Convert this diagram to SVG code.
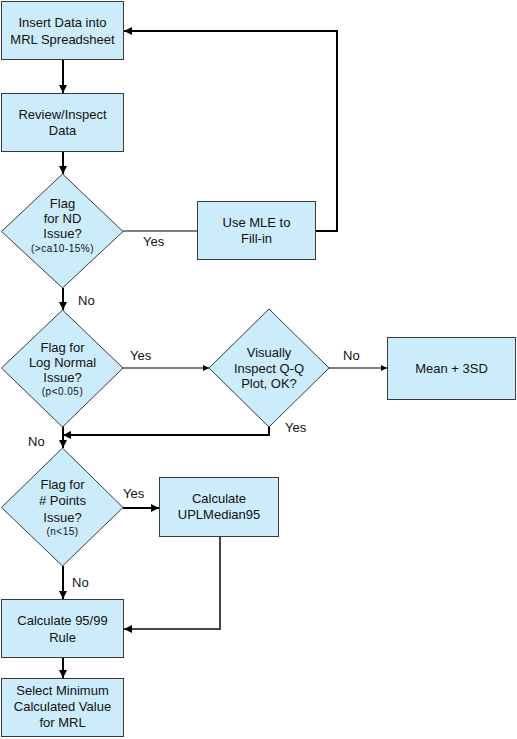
<svg xmlns="http://www.w3.org/2000/svg" width="517" height="739" viewBox="0 0 517 739">
<defs>
<marker id="ah" viewBox="0 0 8 8" refX="8" refY="4" markerWidth="4" markerHeight="4" markerUnits="strokeWidth" orient="auto"><path d="M0,0 L8,4 L0,8 z" fill="#000"/></marker>
<marker id="ahs" viewBox="0 0 8 8" refX="8" refY="4" markerWidth="5" markerHeight="5" markerUnits="strokeWidth" orient="auto"><path d="M0,0 L8,4 L0,8 z" fill="#000"/></marker>
<style>
.n{fill:#CCEBFB;stroke:#3a3a3a;stroke-width:1}
.t{font-family:"Liberation Sans",Arial,sans-serif;font-size:13px;fill:#111;text-anchor:middle}
.s{font-family:"Liberation Sans",Arial,sans-serif;font-size:10px;fill:#111;text-anchor:middle;letter-spacing:0.5px}
.l{font-family:"Liberation Sans",Arial,sans-serif;font-size:13px;fill:#111}
.c{fill:none;stroke:#000;stroke-width:2}
.ct{fill:none;stroke:#000;stroke-width:1.2}
</style>
</defs>
<rect width="517" height="739" fill="#fff"/>
<g id="connectors">
<path class="c" d="M63,60 V93" marker-end="url(#ah)"/>
<path class="c" d="M63,152 V174" marker-end="url(#ah)"/>
<path class="ct" d="M123,231 H197"/>
<path class="c" d="M316,231 H337 V31 H124" marker-end="url(#ah)"/>
<path class="c" d="M63,288 V310" marker-end="url(#ah)"/>
<path class="ct" d="M123,368 H209" marker-end="url(#ahs)"/>
<path class="ct" d="M329,368 H387" marker-end="url(#ahs)"/>
<path class="c" d="M269,427 V435 H63" marker-end="url(#ah)"/>
<path class="c" d="M63,426 V448" marker-end="url(#ah)"/>
<path class="c" d="M123,508 H159" marker-end="url(#ah)"/>
<path class="c" d="M220,537 V629 H124" style="stroke:#444" marker-end="url(#ah)"/>
<path class="c" d="M63,566 V599" marker-end="url(#ah)"/>
<path class="c" d="M63,658 V678" marker-end="url(#ah)"/>
<text class="l" x="143" y="246">Yes</text>
<text class="l" x="78" y="305">No</text>
<text class="l" x="130" y="360">Yes</text>
<text class="l" x="343" y="360">No</text>
<text class="l" x="285" y="432">Yes</text>
<text class="l" x="28" y="446">No</text>
<text class="l" x="123" y="498">Yes</text>
<text class="l" x="72" y="587">No</text>
</g>
<g id="insert">
<rect class="n" x="1.5" y="1.5" width="122" height="58"/>
<text class="t" x="62.5" y="27">Insert Data into</text>
<text class="t" x="62.5" y="44">MRL Spreadsheet</text>
</g>
<g id="review">
<rect class="n" x="1.5" y="93.5" width="122" height="58"/>
<text class="t" x="62.5" y="119">Review/Inspect</text>
<text class="t" x="62.5" y="135">Data</text>
</g>
<g id="flagND">
<polygon class="n" points="62.5,174 123,231.5 62.5,288 1.5,231.5"/>
<text class="t" x="62.5" y="208">Flag</text>
<text class="t" x="62.5" y="223">for ND</text>
<text class="t" x="62.5" y="238">Issue?</text>
<text class="s" x="62.5" y="252">(&gt;ca10-15%)</text>
</g>
<g id="mle">
<rect class="n" x="197.5" y="201.5" width="118" height="58"/>
<text class="t" x="256.5" y="227">Use MLE to</text>
<text class="t" x="256.5" y="243">Fill-in</text>
</g>
<g id="flagLog">
<polygon class="n" points="62.5,310 123,368 62.5,427 1.5,368"/>
<text class="t" x="62.5" y="352">Flag for</text>
<text class="t" x="62.5" y="367">Log Normal</text>
<text class="t" x="62.5" y="382">Issue?</text>
<text class="s" x="62.5" y="395">(p&lt;0.05)</text>
</g>
<g id="qq">
<polygon class="n" points="269,309 329,368 269,427 209,368"/>
<text class="t" x="269" y="357">Visually</text>
<text class="t" x="269" y="373">Inspect Q-Q</text>
<text class="t" x="269" y="388">Plot, OK?</text>
</g>
<g id="mean">
<rect class="n" x="387.5" y="337.5" width="128" height="62"/>
<text class="t" x="451.5" y="373">Mean + 3SD</text>
</g>
<g id="flagPoints">
<polygon class="n" points="62.5,448 123,507.5 62.5,566 1.5,507.5"/>
<text class="t" x="62.5" y="489">Flag for</text>
<text class="t" x="62.5" y="505"># Points</text>
<text class="t" x="62.5" y="522">Issue?</text>
<text class="s" x="62.5" y="535">(n&lt;15)</text>
</g>
<g id="upl">
<rect class="n" x="159.5" y="477.5" width="119" height="59"/>
<text class="t" x="219" y="503">Calculate</text>
<text class="t" x="219" y="519">UPLMedian95</text>
</g>
<g id="rule">
<rect class="n" x="1.5" y="599.5" width="122" height="58"/>
<text class="t" x="62.5" y="625">Calculate 95/99</text>
<text class="t" x="62.5" y="642">Rule</text>
</g>
<g id="select">
<rect class="n" x="1.5" y="678.5" width="122" height="58"/>
<text class="t" x="62.5" y="695">Select Minimum</text>
<text class="t" x="62.5" y="711">Calculated Value</text>
<text class="t" x="62.5" y="727">for MRL</text>
</g>
</svg>
